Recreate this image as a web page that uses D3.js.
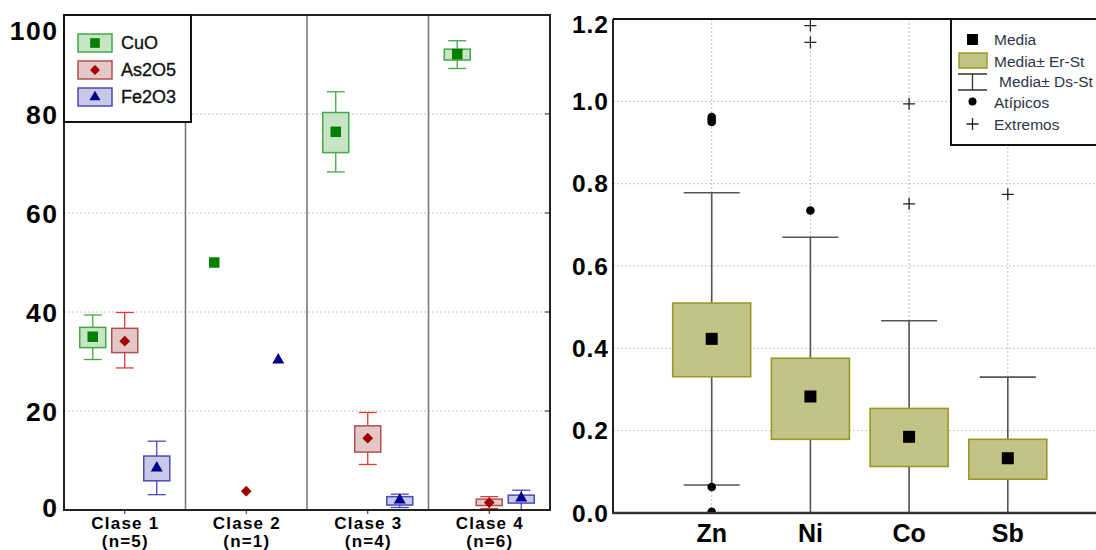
<!DOCTYPE html>
<html>
<head>
<meta charset="utf-8">
<script src="https://cdn.jsdelivr.net/npm/d3@7/dist/d3.min.js"></script>
<style>
  body { margin: 0; background: #fff; }
  svg { font-family: "Liberation Sans", Arial, sans-serif; }
</style>
</head>
<body>
<svg id="chart" width="1096" height="550"></svg>
<script>
// ---- datos panel izquierdo (% oxidos por clase) ----
const clases = ["Clase 1", "Clase 2", "Clase 3", "Clase 4"];
const clasesN = ["(n=5)", "(n=1)", "(n=4)", "(n=6)"];
const oxidos = ["CuO", "As2O5", "Fe2O3"];

const cuoMedia = [35.0, 50.0, 76.4, 92.1];
const cuoErLo  = [32.8, null, 72.2, 90.9];
const cuoErHi  = [36.9, null, 80.3, 93.1];
const cuoDsLo  = [30.4, null, 68.3, 89.2];
const cuoDsHi  = [39.4, null, 84.5, 94.8];

const asMedia = [34.1, 3.8, 14.5, 1.5];
const asErLo  = [31.8, null, 11.7, 0.9];
const asErHi  = [36.7, null, 17.0, 2.2];
const asDsLo  = [28.7, null, 9.2, 0.3];
const asDsHi  = [39.9, null, 19.7, 2.7];

const feMedia = [8.5, 30.3, 2.0, 2.4];
const feErLo  = [5.9, null, 1.0, 1.4];
const feErHi  = [10.9, null, 2.7, 3.0];
const feDsLo  = [3.1, null, 0.5, 0.0];
const feDsHi  = [13.9, null, 3.2, 4.0];

const ticksIzq = [0, 20, 40, 60, 80, 100];

// ---- datos panel derecho (elementos traza) ----
const elementos = ["Zn", "Ni", "Co", "Sb"];
const elMedia = [0.423, 0.283, 0.185, 0.133];
const elErLo  = [0.331, 0.179, 0.113, 0.082];
const elErHi  = [0.510, 0.376, 0.254, 0.179];
const elDsLo  = [0.068, -0.104, -0.097, -0.064];
const elDsHi  = [0.778, 0.670, 0.467, 0.330];
const atipicos = [[0.003, 0.063, 0.950, 0.956, 0.962], [0.735], [], []];
const extremos = [[], [1.143, 1.184], [0.751, 0.994], [0.774]];
const ticksDer = [0, 0.2, 0.4, 0.6, 0.8, 1.0, 1.2];

const svg = d3.select("#chart");

// ================= PANEL IZQUIERDO =================
const estilos = {
  CuO:   { fill: "#c6e4c6", stroke: "#44a844", wh: "#44a844", mark: "#008000", sym: d3.symbolSquare, size: 110, rot: 0 },
  As2O5: { fill: "#e4c8c8", stroke: "#b05050", wh: "#e03a3a", mark: "#a00000", sym: d3.symbolSquare, size: 58, rot: 45 },
  Fe2O3: { fill: "#c8c8e8", stroke: "#4a4ab8", wh: "#4a4ac0", mark: "#000090", sym: d3.symbolTriangle, size: 62, rot: 0 }
};
const series = [
  { name: "CuO", media: cuoMedia, erLo: cuoErLo, erHi: cuoErHi, dsLo: cuoDsLo, dsHi: cuoDsHi },
  { name: "As2O5", media: asMedia, erLo: asErLo, erHi: asErHi, dsLo: asDsLo, dsHi: asDsHi },
  { name: "Fe2O3", media: feMedia, erLo: feErLo, erHi: feErHi, dsLo: feDsLo, dsHi: feDsHi }
];

const xL = d3.scaleBand().domain(clases).range([64, 550]);
const off = d3.scalePoint().domain(oxidos).range([-32, 32]);
const yL = d3.scaleLinear().domain([0, 100]).range([510, 15]);

const gL = svg.append("g");

// rejilla
gL.selectAll(".gridL").data(ticksIzq.filter(t => t > 0 && t < 100)).enter()
  .append("line")
  .attr("x1", 64).attr("x2", 550)
  .attr("y1", d => yL(d)).attr("y2", d => yL(d))
  .attr("stroke", "#c4c4c4").attr("stroke-dasharray", "2,2");

// separadores de clase
gL.selectAll(".sep").data(clases.slice(1)).enter()
  .append("line")
  .attr("x1", d => xL(d)).attr("x2", d => xL(d))
  .attr("y1", 15).attr("y2", 510)
  .attr("stroke", "#7a7a7a").attr("stroke-width", 1.6);

// cajas
series.forEach(s => {
  const st = estilos[s.name];
  clases.forEach((c, i) => {
    const cx = xL(c) + xL.bandwidth() / 2 + off(s.name);
    if (s.erLo[i] != null) {
      gL.append("line")
        .attr("x1", cx).attr("x2", cx)
        .attr("y1", yL(s.dsLo[i])).attr("y2", yL(s.dsHi[i]))
        .attr("stroke", st.wh).attr("stroke-width", 1.3);
      [s.dsLo[i], s.dsHi[i]].forEach(v => {
        gL.append("line")
          .attr("x1", cx - 9).attr("x2", cx + 9)
          .attr("y1", yL(v)).attr("y2", yL(v))
          .attr("stroke", st.wh).attr("stroke-width", 1.3);
      });
      gL.append("rect")
        .attr("x", cx - 13).attr("width", 26)
        .attr("y", yL(s.erHi[i]))
        .attr("height", yL(s.erLo[i]) - yL(s.erHi[i]))
        .attr("fill", st.fill).attr("stroke", st.stroke).attr("stroke-width", 1.5);
    }
    gL.append("path")
      .attr("d", d3.symbol().type(st.sym).size(st.size)())
      .attr("transform", `translate(${cx},${yL(s.media[i])}) rotate(${st.rot})`)
      .attr("fill", st.mark);
  });
});

// marco
gL.append("rect")
  .attr("x", 64).attr("y", 15).attr("width", 486).attr("height", 495)
  .attr("fill", "none").attr("stroke", "#222").attr("stroke-width", 2);

// ticks inferiores
gL.selectAll(".tkx").data(clases).enter()
  .append("line")
  .attr("x1", d => xL(d) + xL.bandwidth() / 2).attr("x2", d => xL(d) + xL.bandwidth() / 2)
  .attr("y1", 510).attr("y2", 514)
  .attr("stroke", "#222");
// ticks internos en borde derecho
gL.selectAll(".tkr").data(ticksIzq.filter(t => t > 0 && t < 100)).enter()
  .append("line")
  .attr("x1", 545).attr("x2", 550)
  .attr("y1", d => yL(d)).attr("y2", d => yL(d))
  .attr("stroke", "#222");

// etiquetas eje y
gL.selectAll(".lby").data(ticksIzq).enter()
  .append("text")
  .attr("x", 58.5)
  .attr("y", d => d === 100 ? yL(d) + 15 : (d === 0 ? yL(d) - 3 : yL(d)))
  .attr("dy", "0.36em")
  .attr("text-anchor", "end")
  .attr("font-size", 26.5).attr("font-weight", "bold")
  .attr("letter-spacing", 1.5)
  .text(d => d);

// etiquetas eje x
clases.forEach((c, i) => {
  const cx = xL(c) + xL.bandwidth() / 2;
  gL.append("text").attr("x", cx + 0.6).attr("y", 529)
    .attr("text-anchor", "middle").attr("font-size", 17).attr("font-weight", "bold")
    .attr("letter-spacing", 1.2)
    .text(c);
  gL.append("text").attr("x", cx + 0.6).attr("y", 547)
    .attr("text-anchor", "middle").attr("font-size", 17).attr("font-weight", "bold")
    .attr("letter-spacing", 1.2)
    .text(clasesN[i]);
});

// leyenda izquierda
const legL = gL.append("g");
legL.append("rect")
  .attr("x", 64).attr("y", 15).attr("width", 127).attr("height", 107)
  .attr("fill", "#fff").attr("stroke", "#111").attr("stroke-width", 2);
oxidos.forEach((o, i) => {
  const st = estilos[o];
  const ly = 43 + i * 27;
  legL.append("rect")
    .attr("x", 78).attr("y", ly - 9).attr("width", 34).attr("height", 18)
    .attr("fill", st.fill).attr("stroke", st.stroke).attr("stroke-width", 1.5);
  legL.append("path")
    .attr("d", d3.symbol().type(st.sym).size(st.size * 0.85)())
    .attr("transform", `translate(95,${ly}) rotate(${st.rot})`)
    .attr("fill", st.mark);
  legL.append("text")
    .attr("x", 121).attr("y", ly).attr("dy", "0.36em")
    .attr("font-size", 18).attr("fill", "#111")
    .attr("stroke", "#111").attr("stroke-width", 0.35)
    .text(o);
});

// ================= PANEL DERECHO =================
const xR = d3.scalePoint().domain(elementos).range([613, 1106.5]).padding(1);
const yR = d3.scaleLinear().domain([0, 1.2]).range([513, 19]);

const gR = svg.append("g");
svg.append("defs").append("clipPath").attr("id", "clipR")
  .append("rect").attr("x", 613).attr("y", 19).attr("width", 490).attr("height", 494);

const plotR = gR.append("g").attr("clip-path", "url(#clipR)");

// rejilla
plotR.selectAll(".gh").data(ticksDer.filter(t => t > 0 && t < 1.2)).enter()
  .append("line")
  .attr("x1", 613).attr("x2", 1096)
  .attr("y1", d => yR(d)).attr("y2", d => yR(d))
  .attr("stroke", "#c4c4c4").attr("stroke-dasharray", "2,2");
plotR.selectAll(".gv").data(elementos).enter()
  .append("line")
  .attr("x1", d => xR(d)).attr("x2", d => xR(d))
  .attr("y1", 19).attr("y2", 513)
  .attr("stroke", "#c4c4c4").attr("stroke-dasharray", "2,2");

elementos.forEach((e, i) => {
  const cx = xR(e);
  plotR.append("line")
    .attr("x1", cx).attr("x2", cx)
    .attr("y1", yR(elDsLo[i])).attr("y2", yR(elDsHi[i]))
    .attr("stroke", "#555").attr("stroke-width", 1.6);
  [elDsLo[i], elDsHi[i]].forEach(v => {
    plotR.append("line")
      .attr("x1", cx - 28).attr("x2", cx + 28)
      .attr("y1", yR(v)).attr("y2", yR(v))
      .attr("stroke", "#555").attr("stroke-width", 1.6);
  });
  plotR.append("rect")
    .attr("x", cx - 39).attr("width", 78)
    .attr("y", yR(elErHi[i]))
    .attr("height", yR(elErLo[i]) - yR(elErHi[i]))
    .attr("fill", "#c3c387").attr("stroke", "#9a9a22").attr("stroke-width", 1.6);
  plotR.append("rect")
    .attr("x", cx - 6).attr("y", yR(elMedia[i]) - 6)
    .attr("width", 12).attr("height", 12)
    .attr("fill", "#000");
  atipicos[i].forEach(v => {
    plotR.append("circle").attr("cx", cx).attr("cy", yR(v)).attr("r", 4.3).attr("fill", "#000");
  });
  extremos[i].forEach(v => {
    plotR.append("path")
      .attr("d", `M${cx - 6},${yR(v)}H${cx + 6}M${cx},${yR(v) - 6}V${yR(v) + 6}`)
      .attr("stroke", "#222").attr("stroke-width", 1.3);
  });
});

// ejes / marco
gR.append("line").attr("x1", 613).attr("x2", 1096).attr("y1", 19).attr("y2", 19)
  .attr("stroke", "#111").attr("stroke-width", 2);
gR.append("line").attr("x1", 613).attr("x2", 613).attr("y1", 19).attr("y2", 513)
  .attr("stroke", "#222").attr("stroke-width", 2);
gR.append("line").attr("x1", 612).attr("x2", 1096).attr("y1", 513).attr("y2", 513)
  .attr("stroke", "#333").attr("stroke-width", 2.5);

gR.selectAll(".lbyR").data(ticksDer).enter()
  .append("text")
  .attr("x", 609)
  .attr("y", d => d === 1.2 ? yR(d) + 5 : yR(d))
  .attr("dy", "0.36em")
  .attr("text-anchor", "end")
  .attr("font-size", 24.5).attr("font-weight", "bold")
  .attr("letter-spacing", 1)
  .text(d => d3.format(".1f")(d));

gR.selectAll(".lbxR").data(elementos).enter()
  .append("text")
  .attr("x", d => xR(d)).attr("y", 542)
  .attr("text-anchor", "middle")
  .attr("font-size", 25).attr("font-weight", "bold")
  .text(d => d);

// leyenda derecha
const legR = gR.append("g");
legR.append("rect")
  .attr("x", 951).attr("y", 19).attr("width", 150).attr("height", 126)
  .attr("fill", "#fff").attr("stroke", "#111").attr("stroke-width", 2);
const legTxt = ["Media", "Media\u00b1 Er-St", " Media\u00b1 Ds-St", "At\u00edpicos", "Extremos"];
const legY = [39, 61, 81, 102, 124];
legR.append("rect").attr("x", 967).attr("y", 34).attr("width", 11).attr("height", 11).attr("fill", "#000");
legR.append("rect").attr("x", 959).attr("y", 53).attr("width", 28).attr("height", 15)
  .attr("fill", "#c3c387").attr("stroke", "#9a9a22").attr("stroke-width", 1.5);
legR.append("path").attr("d", "M958,74H987M972.5,74V90M958,90H987")
  .attr("stroke", "#333").attr("stroke-width", 1.3).attr("fill", "none");
legR.append("circle").attr("cx", 972.5).attr("cy", 101.5).attr("r", 4).attr("fill", "#000");
legR.append("path").attr("d", "M966.5,124H978.5M972.5,118V130")
  .attr("stroke", "#222").attr("stroke-width", 1.3);
legTxt.forEach((t, i) => {
  legR.append("text")
    .attr("x", i === 2 ? 999 : 994).attr("y", legY[i]).attr("dy", "0.36em")
    .attr("font-size", 15.5).attr("fill", "#2e3548")
    .text(t.trim());
});
</script>
</body>
</html>
